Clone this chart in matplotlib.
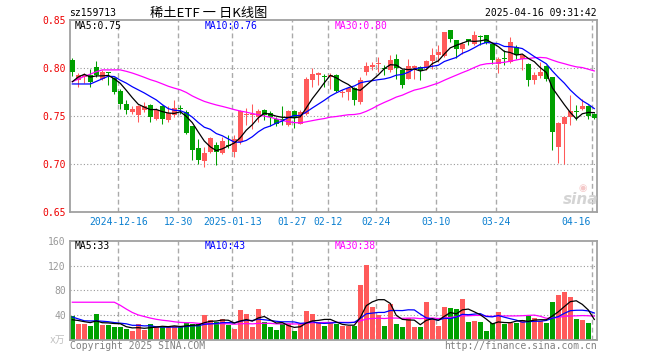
import matplotlib
matplotlib.use('Agg')
import matplotlib.pyplot as plt
import numpy as np
import pandas as pd

# ---------------- data ----------------
holidays = ['2025-01-01', '2025-01-28', '2025-01-29', '2025-01-30', '2025-01-31',
            '2025-02-03', '2025-02-04', '2025-04-04']
dates = [d.strftime('%Y-%m-%d') for d in pd.bdate_range('2024-12-04', '2025-04-16')
         if d.strftime('%Y-%m-%d') not in holidays]

opens = [0.809, 0.7875, 0.791, 0.7927, 0.8014, 0.7892, 0.7955, 0.790, 0.776, 0.7625,
         0.7545, 0.751, 0.7563, 0.7615, 0.7476, 0.7604, 0.7458, 0.751, 0.7585, 0.7545,
         0.7396, 0.7167, 0.7031, 0.7128, 0.7198, 0.7118, 0.720, 0.7128, 0.7233, 0.751,
         0.7515, 0.7493, 0.7563, 0.7538, 0.7476, 0.7468, 0.7413, 0.7552, 0.7424, 0.7525,
         0.7875, 0.7935, 0.7915, 0.791, 0.7927, 0.7746, 0.7753, 0.7795, 0.7649, 0.7962,
         0.8014, 0.8049, 0.8007, 0.798, 0.810, 0.798, 0.7892, 0.800, 0.8014, 0.8003,
         0.8073, 0.8142, 0.8128, 0.8396, 0.8292, 0.8205, 0.8302, 0.8257, 0.8336, 0.8344,
         0.8257, 0.8049, 0.8104, 0.8066, 0.8222, 0.810, 0.8049, 0.7875, 0.792, 0.8024,
         0.791, 0.718, 0.7417, 0.749, 0.7556, 0.7580, 0.7608, 0.7528]
highs = [0.811, 0.795, 0.795, 0.7997, 0.8076, 0.798, 0.796, 0.791, 0.7788, 0.7667,
         0.7604, 0.7615, 0.765, 0.7632, 0.7587, 0.7615, 0.761, 0.7667, 0.7615, 0.7563,
         0.7396, 0.7267, 0.718, 0.7285, 0.7233, 0.7285, 0.7302, 0.7302, 0.757, 0.7587,
         0.7632, 0.758, 0.758, 0.7552, 0.7493, 0.7604, 0.7563, 0.757, 0.7563, 0.791,
         0.8007, 0.7958, 0.7944, 0.795, 0.7944, 0.7771, 0.7806, 0.7806, 0.791, 0.8066,
         0.8066, 0.8118, 0.8038, 0.8142, 0.8153, 0.7997, 0.810, 0.8031, 0.8024, 0.809,
         0.8212, 0.824, 0.838, 0.840, 0.8292, 0.8274, 0.8309, 0.8385, 0.8344, 0.8351,
         0.8257, 0.8118, 0.8188, 0.8326, 0.824, 0.8153, 0.806, 0.7962, 0.8066, 0.8031,
         0.791, 0.7441, 0.7503, 0.7719, 0.7615, 0.7677, 0.7615, 0.7538]
lows = [0.792, 0.7806, 0.785, 0.7806, 0.791, 0.7875, 0.7823, 0.7736, 0.758, 0.752,
        0.7528, 0.744, 0.7545, 0.744, 0.7458, 0.7424, 0.744, 0.7493, 0.7528, 0.732,
        0.7049, 0.7007, 0.6972, 0.7118, 0.699, 0.711, 0.7174, 0.7076, 0.7208, 0.7406,
        0.7372, 0.7441, 0.7458, 0.7396, 0.740, 0.7406, 0.740, 0.7382, 0.7417, 0.7515,
        0.7806, 0.7823, 0.7806, 0.7788, 0.7753, 0.7701, 0.7667, 0.7615, 0.7632, 0.7927,
        0.7979, 0.7962, 0.7927, 0.7962, 0.7892, 0.7795, 0.7885, 0.7885, 0.7875, 0.7979,
        0.7997, 0.8066, 0.812, 0.8274, 0.8108, 0.8153, 0.824, 0.8247, 0.824, 0.8257,
        0.8049, 0.7955, 0.8031, 0.8059, 0.8094, 0.7979, 0.7816, 0.784, 0.7899, 0.7865,
        0.7146, 0.7017, 0.7007, 0.7406, 0.7458, 0.7563, 0.7476, 0.7469]
closes = [0.796, 0.7927, 0.793, 0.786, 0.7927, 0.7962, 0.795, 0.7753, 0.7625, 0.7563,
          0.758, 0.7604, 0.7608, 0.7493, 0.757, 0.7469, 0.753, 0.7587, 0.758, 0.7326,
          0.7146, 0.7042, 0.7118, 0.7278, 0.7128, 0.724, 0.7195, 0.7267, 0.7556, 0.752,
          0.7525, 0.7555, 0.751, 0.7493, 0.7424, 0.7465, 0.7552, 0.7486, 0.7545, 0.789,
          0.7944, 0.7955, 0.791, 0.7935, 0.776, 0.7757, 0.7795, 0.7667, 0.7875, 0.8024,
          0.803, 0.806, 0.799, 0.8083, 0.8003, 0.783, 0.8024, 0.8024, 0.798, 0.8073,
          0.8142, 0.817, 0.8378, 0.8302, 0.8205, 0.8257, 0.8285, 0.8351, 0.8330, 0.8267,
          0.8083, 0.810, 0.8097, 0.8274, 0.8135, 0.8135, 0.7875, 0.7927, 0.7962, 0.7885,
          0.7337, 0.7434, 0.7493, 0.7552, 0.7550, 0.7604, 0.7503, 0.7483]
volumes = [38.4, 25.6, 25.6, 22.4, 41.6, 24, 24, 20.8, 20.8, 17.6,
           14.4, 25.6, 16, 25.6, 22.4, 21, 22.4, 22.4, 20.8, 27.2,
           25.6, 25.6, 40, 32, 29.6, 33.6, 24, 17.6, 48, 41.6,
           21, 49.6, 29, 21, 16, 25, 25, 14.6, 26, 46.6,
           41.6, 29, 22.4, 26.7, 25.6, 22.4, 22.4, 22.4, 88, 121.6,
           52.8, 40, 22.4, 57.6, 25.6, 20.8, 35.2, 20.8, 20.8, 60.8,
           33.6, 22.4, 52.8, 52, 49.6, 66, 28.8, 30.4, 28.8, 14.4,
           27.2, 44.8, 25.6, 27.2, 27.2, 32, 38, 36, 30, 27,
           62, 72, 78, 70, 34, 33, 27, 1.5]

# closes / volumes of the 29 sessions before the window (read back from the MA lines)
prior_closes = [0.712, 0.705, 0.720, 0.715, 0.740, 0.795, 0.775, 0.763,
                0.800, 0.812, 0.825, 0.830, 0.822, 0.815, 0.820, 0.828, 0.818, 0.810,
                0.815, 0.824,
                0.793, 0.793, 0.786, 0.766, 0.769, 0.768, 0.779, 0.800, 0.787]
prior_volumes = [25.6, 25.6, 22.4, 41.6, 24, 24, 20.8,
                 171, 198, 179, 146, 91, 101, 82, 66, 52, 67, 51, 42, 25.6,
                 56, 56, 25, 40, 30, 32, 35, 30, 28]

tick_dates = ['2024-12-16', '2024-12-30', '2025-01-13', '2025-01-27', '2025-02-12',
              '2025-02-24', '2025-03-10', '2025-03-24', '2025-04-16']
tick_labels = ['2024-12-16', '12-30', '2025-01-13', '01-27', '02-12',
               '02-24', '03-10', '03-24', '04-16']
price_ticks = [0.65, 0.70, 0.75, 0.80, 0.85]
vol_ticks = [40, 80, 120, 160]

symbol = 'sz159713'
title = '稀土ETF 一 日K线图'
stamp = '2025-04-16 09:31:42'

# ---------------- derived ----------------
n = len(closes)
x = np.arange(n)
full_c = pd.Series(prior_closes + closes)
full_v = pd.Series(prior_volumes + volumes)
np_ = len(prior_closes)
ma = {k: full_c.rolling(k).mean().values[np_:] for k in (5, 10, 30)}
vma = {k: full_v.rolling(k).mean().values[np_:] for k in (5, 10, 30)}

RED = '#ff5a5a'
GREEN = '#00a000'
colors = [GREEN if c < o else RED for o, c in zip(opens, closes)]

W, H = 660, 360
plt.rcParams['font.family'] = ['DejaVu Sans Mono', 'Noto Sans CJK SC']
fig = plt.figure(figsize=(W / 100, H / 100), dpi=100)

def fx(px):
    return px / W

def fy(py):
    return 1 - py / H

ax1 = fig.add_axes([fx(70), fy(212.3), 527 / W, 192 / H])
ax2 = fig.add_axes([fx(70), fy(340), 527 / W, (340 - 240.7) / H])

xl = (-0.383, 87.45)
for ax in (ax1, ax2):
    ax.set_xlim(*xl)
    ax.set_xticks([])
    for s in ax.spines.values():
        s.set_color('#a0a0a0')
        s.set_linewidth(1.3)
    ax.tick_params(axis='y', length=0)
    for d in tick_dates:
        ax.axvline(dates.index(d) - 0.33, color='#aaaaaa', lw=1.0,
                   ls=(0, (3.5, 2.2)), zorder=0)

# price panel
ax1.set_ylim(0.65, 0.85)
ax1.set_yticks(price_ticks)
ax1.set_yticklabels(['%.2f' % t for t in price_ticks], color='#ee0000', fontsize=7)
ax1.tick_params(axis='y', pad=3)
for t in price_ticks[1:-1]:
    ax1.axhline(t, color='#999999', lw=0.8, ls=(0, (1, 2)), zorder=0)

wick_lw = 0.75
for i in range(n):
    o, h, l, c = opens[i], highs[i], lows[i], closes[i]
    col = colors[i]
    ax1.vlines(i, l, h, color=col, lw=wick_lw, zorder=2)
    ax1.bar(i, max(abs(c - o), 0.0009), bottom=min(o, c), width=0.78,
            color=col, lw=0, zorder=3)

ax1.plot(x, ma[30], color='#ff00ff', lw=0.9, zorder=4)
ax1.plot(x, ma[10], color='#0000ff', lw=0.9, zorder=4)
ax1.plot(x, ma[5], color='#000000', lw=0.9, zorder=5)

# volume panel
ax2.set_ylim(0, 160)
ax2.set_yticks(vol_ticks)
ax2.set_yticklabels([str(t) for t in vol_ticks], color='#999999', fontsize=7)
ax2.tick_params(axis='y', pad=3)
for t in vol_ticks[:-1]:
    ax2.axhline(t, color='#999999', lw=0.8, ls=(0, (1, 2)), zorder=0)
ax2.bar(x, volumes, width=0.82, color=colors, lw=0, zorder=2)
ax2.plot(x, vma[30], color='#ff00ff', lw=0.9, zorder=4)
ax2.plot(x, vma[10], color='#0000ff', lw=0.9, zorder=4)
ax2.plot(x, vma[5], color='#000000', lw=0.9, zorder=5)

# date labels
for d, lab in zip(tick_dates, tick_labels):
    xi = dates.index(d) - 0.33
    xp = 72.3 + 6 * xi
    if d == tick_dates[-1]:
        fig.text(fx(591), fy(222), lab, ha='right', va='center', fontsize=7, color='#0a7fd0')
    else:
        fig.text(fx(xp), fy(222), lab, ha='center', va='center', fontsize=7, color='#0a7fd0')

# header
fig.text(fx(69), fy(13), symbol, ha='left', va='center', fontsize=7, color='#000000')
fig.text(fx(150), fy(13), title, ha='left', va='center', fontsize=9.5, color='#000000',
         family=['Noto Sans CJK SC', 'DejaVu Sans'])
fig.text(fx(597), fy(13), stamp, ha='right', va='center', fontsize=7, color='#000000')

# legends
fig.text(fx(75), fy(26), 'MA5:%.2f' % ma[5][-1], ha='left', va='center', fontsize=7, color='#000000')
fig.text(fx(205), fy(26), 'MA10:%.2f' % ma[10][-1], ha='left', va='center', fontsize=7, color='#0000ff')
fig.text(fx(335), fy(26), 'MA30:%.2f' % ma[30][-1], ha='left', va='center', fontsize=7, color='#ff00ff')
fig.text(fx(75), fy(246), 'MA5:%.0f' % vma[5][-1], ha='left', va='center', fontsize=7, color='#000000')
fig.text(fx(205), fy(246), 'MA10:%.0f' % vma[10][-1], ha='left', va='center', fontsize=7, color='#0000ff')
fig.text(fx(335), fy(246), 'MA30:%.0f' % vma[30][-1], ha='left', va='center', fontsize=7, color='#ff00ff')

# footer
fig.text(fx(69.5), fy(346), 'Copyright 2025 SINA.COM', ha='left', va='center', fontsize=7, color='#808080')
fig.text(fx(597), fy(346), 'http://finance.sina.com.cn', ha='right', va='center', fontsize=7, color='#808080')
fig.text(fx(65), fy(340), 'x万', ha='right', va='center', fontsize=7, color='#c0c0c0',
         family=['DejaVu Sans Mono', 'Noto Sans CJK SC'])

# watermark
fig.text(fx(581), fy(200), 'sina', ha='center', va='center', fontsize=11, color='#d4d4d4',
         family='DejaVu Sans', style='italic', weight='bold')
fig.text(fx(583), fy(188), '◉', ha='center', va='center', fontsize=7, color='#f4c8c8',
         family='DejaVu Sans')

fig.savefig('out.png', dpi=100)
